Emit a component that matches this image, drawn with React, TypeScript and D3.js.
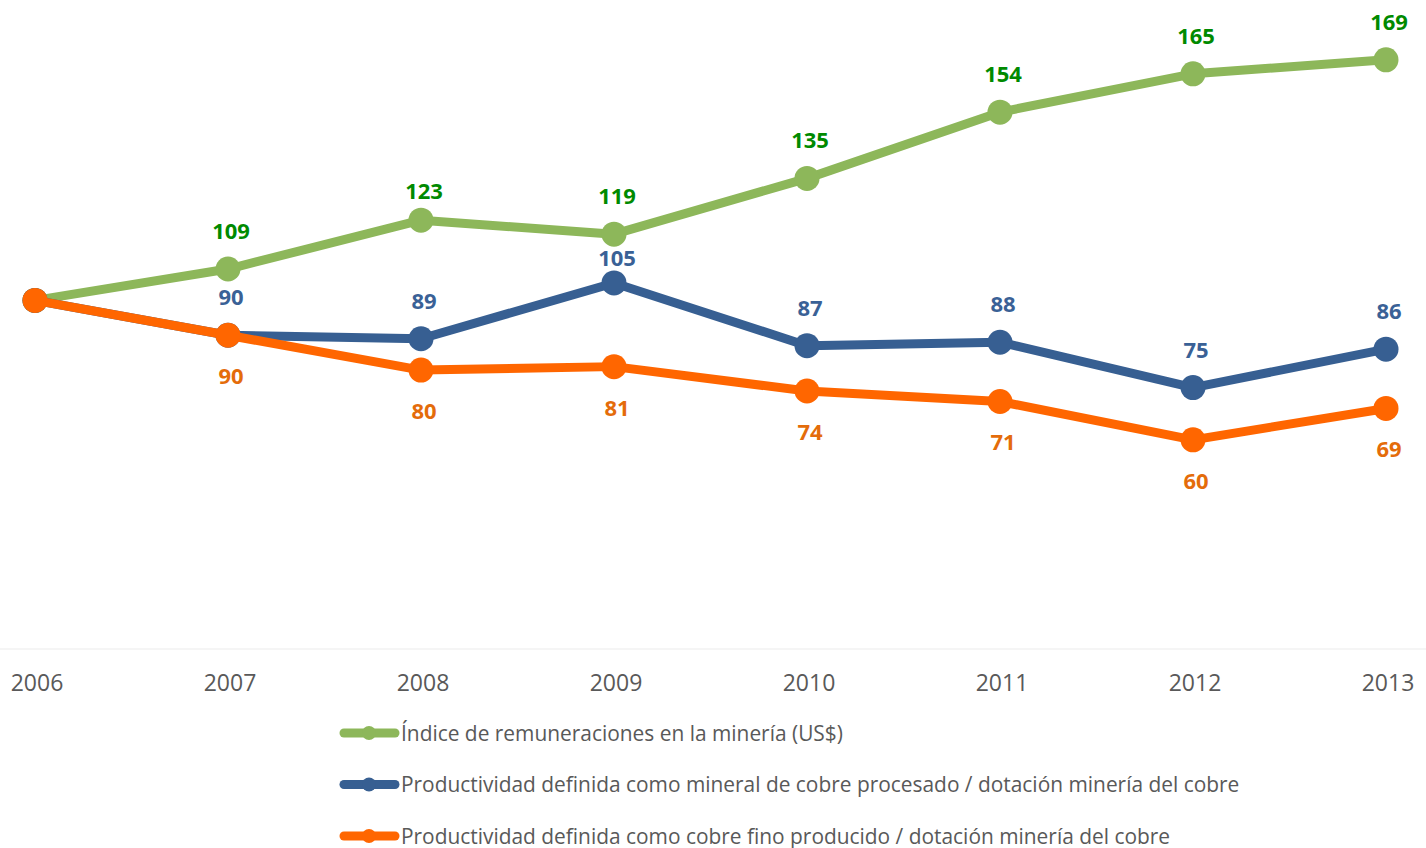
import React from "react";
import * as d3 from "d3";

const years = ["2006", "2007", "2008", "2009", "2010", "2011", "2012", "2013"];
const remuneraciones = [100, 109, 123, 119, 135, 154, 165, 169];
const mineralProcesado = [100, 90, 89, 105, 87, 88, 75, 86];
const cobreFino = [100, 90, 80, 81, 74, 71, 60, 69];
const seriesNames = [
  "Índice de remuneraciones en la minería (US$)",
  "Productividad definida como mineral de cobre procesado / dotación minería del cobre",
  "Productividad definida como cobre fino producido / dotación minería del cobre",
];

const W = 1426;
const H = 848;
const FONT = "'Open Sans', Lato, sans-serif";

export default function App() {
  const x = d3.scalePoint<string>().domain(years).range([35, 1386]);
  const y = d3.scaleLinear().domain([0, 180]).range([649, 21.5]);

  const series = [
    { name: seriesNames[0], values: remuneraciones, line: "#8DB75A", label: "#008A00", pos: "above", nudge: [0, 0, 9, 0, 0, 0, 0, 0] },
    { name: seriesNames[1], values: mineralProcesado, line: "#375F92", label: "#3A6196", pos: "above", nudge: [0, 0, 0, 13, 0, 0, 0, 0] },
    { name: seriesNames[2], values: cobreFino, line: "#FF6600", label: "#E46C0A", pos: "below", nudge: [0, 0, 0, 0, 0, 0, 0, 0] },
  ];

  const lineGen = d3
    .line<number>()
    .x((_, i) => x(years[i]) as number)
    .y((v) => y(v));

  return (
    <svg width={W} height={H} style={{ position: "absolute", left: 0, top: 0, background: "#fff" }}>
      <rect x={0} y={0} width={W} height={H} fill="#fff" />
      <line x1={0} x2={1426} y1={y(0)} y2={y(0)} stroke="#F2F2F2" strokeWidth={1.5} />
      {years.map((yr) => (
        <text key={yr} x={(x(yr) as number) + 2} y={691} textAnchor="middle" fontFamily={FONT} fontSize={23} fill="#595959">
          {yr}
        </text>
      ))}
      {series.map((s) => (
        <g key={s.name}>
          <path d={lineGen(s.values) || ""} fill="none" stroke={s.line} strokeWidth={9} strokeLinejoin="round" />
          {s.values.map((v, i) => (
            <circle key={i} cx={x(years[i])} cy={y(v)} r={12.5} fill={s.line} />
          ))}
        </g>
      ))}
      {series.map((s) =>
        s.values.map((v, i) =>
          i === 0 ? null : (
            <text
              key={s.name + i}
              x={(x(years[i]) as number) + 3}
              y={s.pos === "above" ? y(v) - 30 + s.nudge[i] : y(v) + 49}
              textAnchor="middle"
              fontFamily={FONT}
              fontWeight="bold"
              fontSize={22}
              fill={s.label}
            >
              {v}
            </text>
          )
        )
      )}
      {series.map((s, i) => {
        const cy = 733 + i * 51.5;
        return (
          <g key={"leg" + i}>
            <line x1={344} x2={395} y1={cy} y2={cy} stroke={s.line} strokeWidth={9} strokeLinecap="round" />
            <circle cx={369} cy={cy} r={7} fill={s.line} />
            <text x={401} y={cy + 7.5} fontFamily={FONT} fontSize={20.9} fill="#595959">
              {s.name}
            </text>
          </g>
        );
      })}
    </svg>
  );
}
